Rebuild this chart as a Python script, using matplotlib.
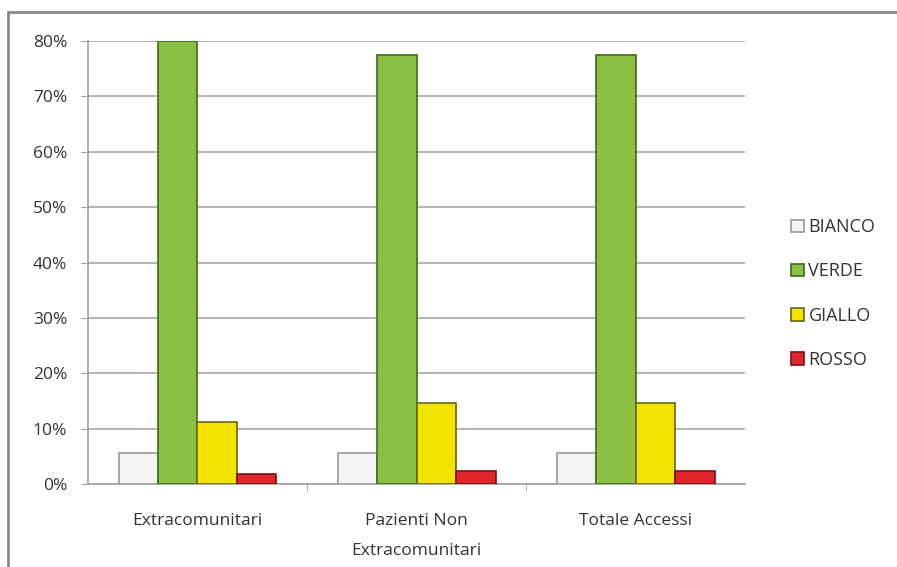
import numpy as np
import matplotlib.pyplot as plt
from matplotlib.patches import Rectangle

plt.rcParams['font.family'] = ['Open Sans', 'DejaVu Sans']

# Dati: quota di accessi per codice colore
categorie = ['Extracomunitari', 'Pazienti Non\nExtracomunitari', 'Totale Accessi']
bianco = [5.6, 5.6, 5.6]
verde = [80.0, 77.5, 77.5]
giallo = [11.2, 14.6, 14.6]
rosso = [1.8, 2.3, 2.3]

serie = [('BIANCO', bianco, '#f4f4f4', '#9a9a9a'),
         ('VERDE', verde, '#8cc043', '#3f6a1c'),
         ('GIALLO', giallo, '#f2e200', '#6a6410'),
         ('ROSSO', rosso, '#e0262a', '#7a1214')]

fig = plt.figure(figsize=(8.97, 5.67), dpi=100)
ax = fig.add_axes([0.098, 0.146, 0.733, 0.782])

x = np.arange(len(categorie))
larg = 0.18
for i, (nome, valori, colore, bordo) in enumerate(serie):
    pos = x + (i - 1.5) * larg
    ax.bar(pos, valori, width=larg, color=colore, edgecolor=bordo,
           linewidth=1.2, label=nome, zorder=3)

ax.set_xlim(-0.5, 2.5)
ax.set_ylim(0, 80)
ax.set_yticks(np.arange(0, 81, 10))
ax.set_yticklabels([f'{v}%' for v in range(0, 81, 10)], fontsize=12.5, color='#333333')
ax.yaxis.grid(True, color='#a8a8a8', linewidth=1.2, zorder=0)
ax.set_xticks(x)
ax.set_xticklabels(categorie, fontsize=12.5, color='#333333', linespacing=2.1)
ax.set_xticks([0.5, 1.5], minor=True)
ax.tick_params(axis='x', which='major', length=0, pad=21)
ax.tick_params(axis='x', which='minor', length=5, color='#a0a0a0')
ax.tick_params(axis='y', length=5, color='#a0a0a0', pad=10)

for lato in ['top', 'right']:
    ax.spines[lato].set_visible(False)
for lato in ['left', 'bottom']:
    ax.spines[lato].set_color('#a0a0a0')
    ax.spines[lato].set_linewidth(1.2)

ax.legend(loc='center left', bbox_to_anchor=(1.045, 0.43), frameon=False,
          fontsize=13, handlelength=0.7, handleheight=0.7, handletextpad=0.25,
          labelspacing=1.45, labelcolor='#333333')

# cornice esterna del grafico
fig.patches.append(Rectangle((0.009, -0.05), 1.2, 1.029, transform=fig.transFigure,
                             fill=False, edgecolor='#8a8a8a', linewidth=2))

fig.savefig('out.png', dpi=100)
